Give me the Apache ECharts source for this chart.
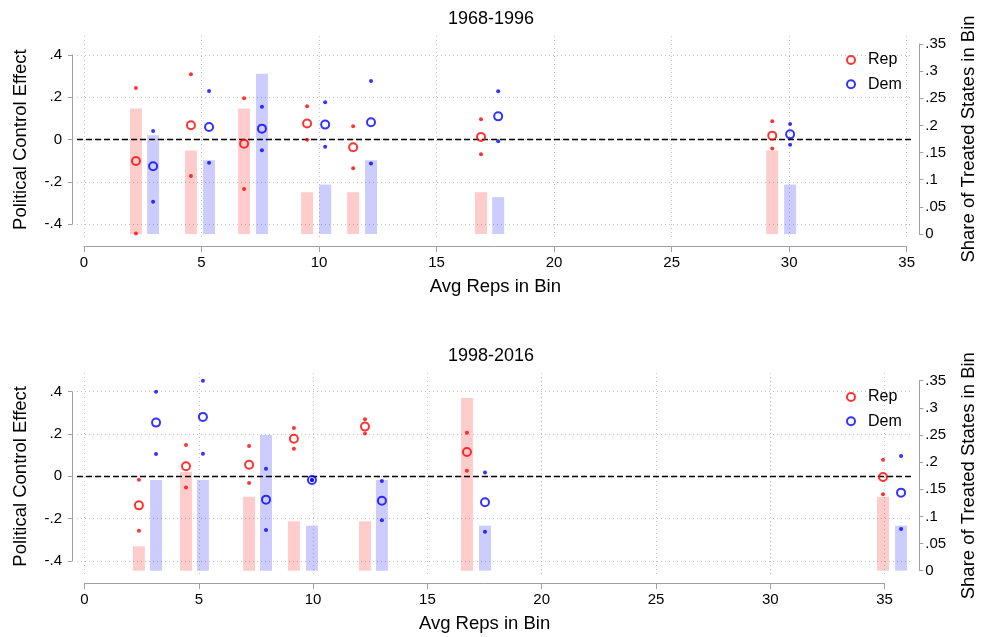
<!DOCTYPE html>
<html><head><meta charset="utf-8">
<script src="https://cdn.jsdelivr.net/npm/echarts@6/dist/echarts.min.js"></script>
<style>html,body{margin:0;padding:0;background:#fff}#c{width:982px;height:637px}</style>
</head><body><div id="c"></div>
<script>
// ---------------- data ----------------
const panelTitles = ['1968-1996', '1998-2016'];
const seriesNames = ['Rep', 'Dem'];
const xTickValues = [0, 5, 10, 15, 20, 25, 30, 35];
const leftTickValues = [-0.4, -0.2, 0, 0.2, 0.4];
const rightTickValues = [0, 0.05, 0.1, 0.15, 0.2, 0.25, 0.3, 0.35];

// Panel 1: 1968-1996
const p1RepX     = [2.21, 4.55, 6.81, 9.49, 11.45, 16.89, 29.28];
const p1RepEst   = [-0.101, 0.068, -0.019, 0.076, -0.036, 0.013, 0.019];
const p1RepHi    = [0.244, 0.309, 0.196, 0.158, 0.063, 0.096, 0.087];
const p1RepLo    = [-0.444, -0.172, -0.233, -0.001, -0.135, -0.069, -0.042];
const p1RepShare = [0.231, 0.154, 0.231, 0.077, 0.077, 0.077, 0.154];
const p1DemX     = [2.94, 5.32, 7.57, 10.26, 12.21, 17.62, 30.04];
const p1DemEst   = [-0.126, 0.060, 0.052, 0.071, 0.082, 0.110, 0.025];
const p1DemHi    = [0.041, 0.230, 0.155, 0.177, 0.277, 0.229, 0.074];
const p1DemLo    = [-0.293, -0.109, -0.050, -0.033, -0.113, -0.008, -0.024];
const p1DemShare = [0.182, 0.136, 0.295, 0.091, 0.136, 0.068, 0.091];

// Panel 2: 1998-2016
const p2RepX     = [2.38, 4.44, 7.20, 9.16, 12.27, 16.73, 34.93];
const p2RepEst   = [-0.137, 0.048, 0.055, 0.178, 0.235, 0.115, -0.003];
const p2RepHi    = [-0.016, 0.148, 0.144, 0.228, 0.270, 0.206, 0.079];
const p2RepLo    = [-0.257, -0.053, -0.031, 0.130, 0.202, 0.027, -0.085];
const p2RepShare = [0.045, 0.182, 0.136, 0.091, 0.091, 0.318, 0.136];
const p2DemX     = [3.13, 5.18, 7.94, 9.95, 13.01, 17.52, 35.72];
const p2DemEst   = [0.254, 0.281, -0.110, -0.017, -0.115, -0.122, -0.077];
const p2DemHi    = [0.400, 0.452, 0.036, -0.017, -0.022, 0.018, 0.096];
const p2DemLo    = [0.106, 0.107, -0.254, -0.017, -0.207, -0.262, -0.249];
const p2DemShare = [0.167, 0.167, 0.250, 0.083, 0.167, 0.083, 0.083];

// ---------------- layout & style ----------------
const FONT = '"Liberation Sans", Arial, Helvetica, sans-serif';
const RED = '#ff0000', BLUE = '#0000ff';
const RED_BAR = 'rgba(255,0,0,0.2)', BLUE_BAR = 'rgba(0,0,255,0.2)';
const AXIS_COLOR = '#a0a0a0', GRID_COLOR = '#c4c4c4';
const BAR_W = 12;

const panels = [
  { title: panelTitles[0], titleTop: 5,
    rep: { x: p1RepX, est: p1RepEst, hi: p1RepHi, lo: p1RepLo, share: p1RepShare },
    dem: { x: p1DemX, est: p1DemEst, hi: p1DemHi, lo: p1DemLo, share: p1DemShare },
    L: { plotL: 77, plotR: 913, x0: 84, x35: 906.7, lineMax: 35, plotT: 36, plotB: 240,
         leftTop: 55, leftBot: 224.3, rightTop: 44, rightBot: 234, xAxisY: 246, legendTop: 47 } },
  { title: panelTitles[1], titleTop: 342,
    rep: { x: p2RepX, est: p2RepEst, hi: p2RepHi, lo: p2RepLo, share: p2RepShare },
    dem: { x: p2DemX, est: p2DemEst, hi: p2DemHi, lo: p2DemLo, share: p2DemShare },
    L: { plotL: 77, plotR: 913, x0: 84.5, x35: 884.6, lineMax: 35, plotT: 373, plotB: 577,
         leftTop: 391.7, leftBot: 561, rightTop: 380.7, rightBot: 570.7, xAxisY: 583, legendTop: 384 } }
];

const fmt = v => {
  if (Math.abs(v) < 1e-9) return '0';
  return String(+v.toFixed(2)).replace(/^(-?)0\./, '$1.');
};
const zip = (a, b) => a.map((v, i) => [v, b[i]]);

const option = { backgroundColor: '#fff', animation: false,
  title: [], grid: [], xAxis: [], yAxis: [], series: [], legend: [] };

panels.forEach((p, pi) => {
  const L = p.L;
  const k = (L.x35 - L.x0) / 35;
  const xmin = (L.plotL - L.x0) / k, xmax = (L.plotR - L.x0) / k;
  const gPts = pi * 3, gBar = pi * 3 + 1, gX = pi * 3 + 2;

  option.title.push({ text: p.title, left: 'center', top: p.titleTop,
    textStyle: { fontFamily: FONT, fontSize: 18, fontWeight: 'normal', color: '#000' } });

  const gridBase = { containLabel: false, outerBoundsMode: 'none' };
  option.grid.push(Object.assign({ left: L.plotL, width: L.plotR - L.plotL, top: L.leftTop, height: L.leftBot - L.leftTop }, gridBase));
  option.grid.push(Object.assign({ left: L.plotL, width: L.plotR - L.plotL, top: L.rightTop, height: L.rightBot - L.rightTop }, gridBase));
  option.grid.push(Object.assign({ left: L.x0, width: k * L.lineMax, top: L.plotT, height: L.plotB - L.plotT }, gridBase));

  option.xAxis.push({ gridIndex: gPts, type: 'value', min: xmin, max: xmax, show: false });
  option.xAxis.push({ gridIndex: gBar, type: 'value', min: xmin, max: xmax, show: false });
  option.xAxis.push({ gridIndex: gX, type: 'value', min: 0, max: L.lineMax, interval: 5,
    offset: L.xAxisY - L.plotB,
    name: 'Avg Reps in Bin', nameLocation: 'middle', nameGap: 31,
    nameTextStyle: { fontFamily: FONT, fontSize: 18.5, color: '#000' },
    axisLine: { show: true, onZero: false, lineStyle: { color: AXIS_COLOR, width: 1 } },
    axisTick: { show: true, inside: false, length: 6, lineStyle: { color: AXIS_COLOR } },
    axisLabel: { fontFamily: FONT, fontSize: 15, color: '#000', margin: 9, formatter: fmt },
    splitLine: { show: true, lineStyle: { color: GRID_COLOR, type: [1, 3], width: 1 } } });

  option.yAxis.push({ gridIndex: gPts, type: 'value', position: 'left', min: -0.4, max: 0.4, interval: 0.2,
    offset: L.plotL - 72,
    name: 'Political Control Effect', nameLocation: 'middle', nameGap: 42, nameRotate: 90,
    nameTextStyle: { fontFamily: FONT, fontSize: 18.5, color: '#000' },
    axisLine: { show: true, onZero: false, lineStyle: { color: AXIS_COLOR, width: 1 } },
    axisTick: { show: true, inside: false, length: 4, lineStyle: { color: AXIS_COLOR } },
    axisLabel: { fontFamily: FONT, fontSize: 15, color: '#000', margin: 10, formatter: fmt },
    splitLine: { show: true, lineStyle: { color: GRID_COLOR, type: [1, 3], width: 1 } } });
  option.yAxis.push({ gridIndex: gBar, type: 'value', position: 'right', min: 0, max: 0.35, interval: 0.05,
    offset: 919.3 - L.plotR,
    name: 'Share of Treated States in Bin', nameLocation: 'middle', nameGap: 40, nameRotate: 90,
    nameTextStyle: { fontFamily: FONT, fontSize: 18.5, color: '#000' },
    axisLine: { show: true, onZero: false, lineStyle: { color: AXIS_COLOR, width: 1 } },
    axisTick: { show: true, inside: false, length: 4, lineStyle: { color: AXIS_COLOR } },
    axisLabel: { fontFamily: FONT, fontSize: 15, color: '#000', margin: 6, formatter: fmt },
    splitLine: { show: false } });
  option.yAxis.push({ gridIndex: gX, type: 'value', min: 0, max: 1, show: false });

  const groups = [[p.rep, RED, RED_BAR, seriesNames[0]], [p.dem, BLUE, BLUE_BAR, seriesNames[1]]];
  groups.forEach(([d, col, barCol, nm]) => {
    option.series.push({ type: 'custom', name: nm + ' share', xAxisIndex: gBar, yAxisIndex: gBar,
      data: zip(d.x, d.share), clip: false, silent: true, z: 1,
      renderItem: (params, api) => {
        const top = api.coord([api.value(0), api.value(1)]);
        const base = api.coord([api.value(0), 0]);
        return { type: 'rect',
          shape: { x: top[0] - BAR_W / 2, y: top[1], width: BAR_W, height: base[1] - top[1] },
          style: { fill: barCol } };
      } });
  });
  groups.forEach(([d, col, barCol, nm], gi) => {
    option.series.push({ type: 'scatter', name: nm + ' CI', xAxisIndex: gPts, yAxisIndex: gPts,
      data: zip(d.x, d.hi).concat(zip(d.x, d.lo)), symbol: 'circle', symbolSize: 4, clip: false,
      silent: true, z: 4, itemStyle: { color: col } });
    const s = { type: 'scatter', name: nm, xAxisIndex: gPts, yAxisIndex: gPts,
      data: zip(d.x, d.est), symbol: 'circle', symbolSize: 8, clip: false, z: 5,
      itemStyle: { color: 'rgba(255,255,255,0)', borderColor: col, borderWidth: 2 } };
    if (gi === 0) {
      s.markLine = { silent: true, symbol: ['none', 'none'], label: { show: false }, z: 3,
        lineStyle: { color: '#000', type: [6, 3], width: 1.3 },
        data: [{ yAxis: 0 }] };
    }
    option.series.push(s);
  });

  option.legend.push({ data: seriesNames, orient: 'vertical', left: 841, top: L.legendTop,
    itemWidth: 24, itemHeight: 8, itemGap: 8.3,
    textStyle: { fontFamily: FONT, fontSize: 16, color: '#000', lineHeight: 16 } });
});

const chart = echarts.init(document.getElementById('c'), null, { renderer: 'canvas' });
chart.setOption(option);
</script></body></html>
